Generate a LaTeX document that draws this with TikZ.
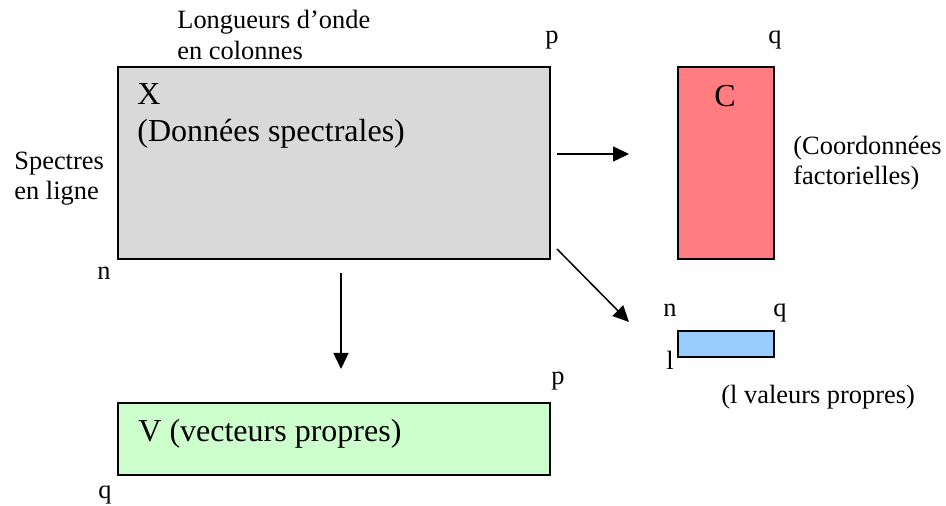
\documentclass[tikz,border=0pt]{standalone}
\usepackage{fontspec}
\setmainfont{Liberation Serif}
\usetikzlibrary{arrows.meta}
\definecolor{datagray}{HTML}{D9D9D9}
\definecolor{coordred}{HTML}{FF7C80}
\definecolor{valblue}{HTML}{99CCFF}
\definecolor{vecgreen}{HTML}{CCFFCC}
\begin{document}
\begin{tikzpicture}[x=0.5pt,y=-0.5pt,
  mat/.style={draw=black,line width=1pt,inner sep=0,anchor=north west},
  lbl/.style={inner sep=0,anchor=base west,font=\fontsize{13.2}{15}\selectfont},
  big/.style={inner sep=0,anchor=base west,font=\fontsize{16}{19}\selectfont},
  conn/.style={line width=0.75pt,-{Triangle[length=8pt,width=7.5pt]}}]
\useasboundingbox (0,0) rectangle (946,506);

% matrices
\node[mat,fill=datagray,minimum width=216pt,minimum height=96pt] (X) at (117,66) {};
\node[mat,fill=coordred,minimum width=48pt,minimum height=96pt] (C) at (677,66) {};
\node[mat,fill=valblue,minimum width=48pt,minimum height=13pt] (L) at (677,330) {};
\node[mat,fill=vecgreen,minimum width=216pt,minimum height=36pt] (V) at (117,402) {};

% contents of the matrices
\node[big] (Xname) at (137,105) {X};
\node[big] (Xdesc) at (137,142) {(Données spectrales)};
\node[big,anchor=base] (Cname) at (725,107) {C};
\node[big] (Vname) at (138,442) {V (vecteurs propres)};

% dimensions and captions
\node[lbl] (cols1) at (177,29) {Longueurs d’onde};
\node[lbl] (cols2) at (177,60) {en colonnes};
\node[lbl] (rows1) at (14,170) {Spectres};
\node[lbl] (rows2) at (14,200) {en ligne};
\node[lbl] (Xn) at (97,280) {n};
\node[lbl] (Xp) at (545,44) {p};
\node[lbl] (Cq) at (768,44) {q};
\node[lbl] (Cdesc1) at (793,155) {(Coordonnées};
\node[lbl] (Cdesc2) at (793,185) {factorielles)};
\node[lbl] (Ln) at (663,317) {n};
\node[lbl] (Lq) at (773,317) {q};
\node[lbl] (Ll) at (666,370) {l};
\node[lbl] (Ldesc) at (721,404) {(l valeurs propres)};
\node[lbl] (Vp) at (551,385) {p};
\node[lbl] (Vq) at (98,499) {q};

% arrows
\coordinate (toC0) at (557,154);
\coordinate (toC1) at (629,154);
\coordinate (toL0) at (557,249);
\coordinate (toL1) at (629,322);
\coordinate (toV0) at (341,273);
\coordinate (toV1) at (341,369);
\draw[conn] (toC0) -- (toC1);
\draw[conn] (toL0) -- (toL1);
\draw[conn] (toV0) -- (toV1);
\end{tikzpicture}
\end{document}
